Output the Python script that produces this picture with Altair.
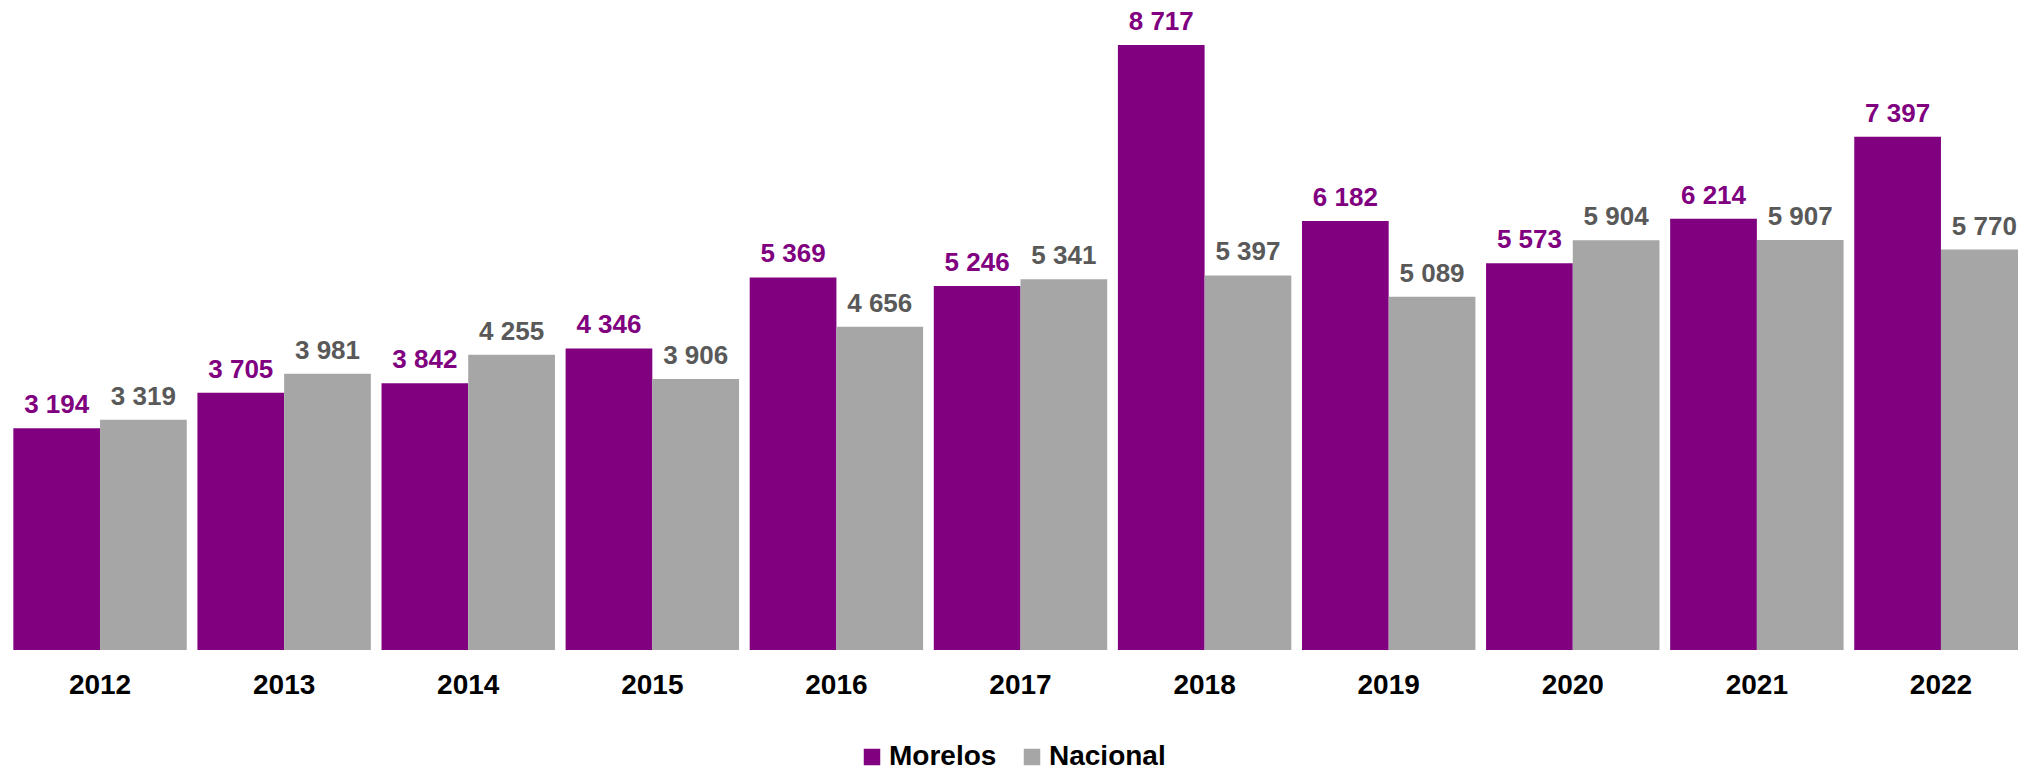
import altair as alt
import pandas as pd

years = ["2012", "2013", "2014", "2015", "2016", "2017", "2018", "2019", "2020", "2021", "2022"]
morelos = [3194, 3705, 3842, 4346, 5369, 5246, 8717, 6182, 5573, 6214, 7397]
nacional = [3319, 3981, 4255, 3906, 4656, 5341, 5397, 5089, 5904, 5907, 5770]
series = ["Morelos", "Nacional"]
colors = ["#800080", "#A6A6A6"]
label_colors = ["#800080", "#595959"]

rows = []
for y, m, n in zip(years, morelos, nacional):
    rows.append({"year": y, "serie": "Morelos", "value": m})
    rows.append({"year": y, "serie": "Nacional", "value": n})
df = pd.DataFrame(rows)
df["label"] = df["value"].map(lambda v: f"{v:,}".replace(",", " "))

FONT = "Liberation Sans"

x = alt.X("year:N", sort=years, title=None,
          scale=alt.Scale(paddingInner=0.058, paddingOuter=0.029, range=[0, 2025]),
          axis=alt.Axis(domain=False, ticks=False, labelPadding=21, labelFontSize=28,
                        labelFont=FONT, labelFontWeight="bold", labelColor="#000000",
                        labelAngle=0))
xo = alt.XOffset("serie:N", sort=series, scale=alt.Scale(paddingInner=0, paddingOuter=0))
y = alt.Y("value:Q", axis=None, scale=alt.Scale(domain=[0, 9164], nice=False))

bars = alt.Chart(df).mark_bar().encode(
    x=x, xOffset=xo, y=y,
    color=alt.Color("serie:N", sort=series,
                    scale=alt.Scale(domain=series, range=colors),
                    legend=alt.Legend(title=None, orient="none", legendX=850, legendY=729,
                                      direction="horizontal", symbolType="square",
                                      symbolSize=272, symbolStrokeWidth=0,
                                      labelFont=FONT, labelFontSize=28,
                                      labelFontWeight="bold", labelColor="#000000",
                                      labelOffset=3, columnPadding=21)),
)

labels = alt.Chart(df).mark_text(baseline="alphabetic", dy=-15, fontSize=26,
                                 font=FONT, fontWeight="bold").encode(
    x=x, xOffset=xo, y=y, text="label:N",
    color=alt.Color("serie:N", sort=series,
                    scale=alt.Scale(domain=series, range=label_colors), legend=None),
)

chart = alt.layer(bars, labels).resolve_scale(color="independent").properties(
    width=2025, height=636,
    autosize=alt.AutoSizeParams(type="none"),
    padding={"left": 0, "top": 6, "right": -15, "bottom": 122},
).configure_view(stroke=None)

chart.save("out.html", embed_options={"renderer": "svg", "actions": False})
